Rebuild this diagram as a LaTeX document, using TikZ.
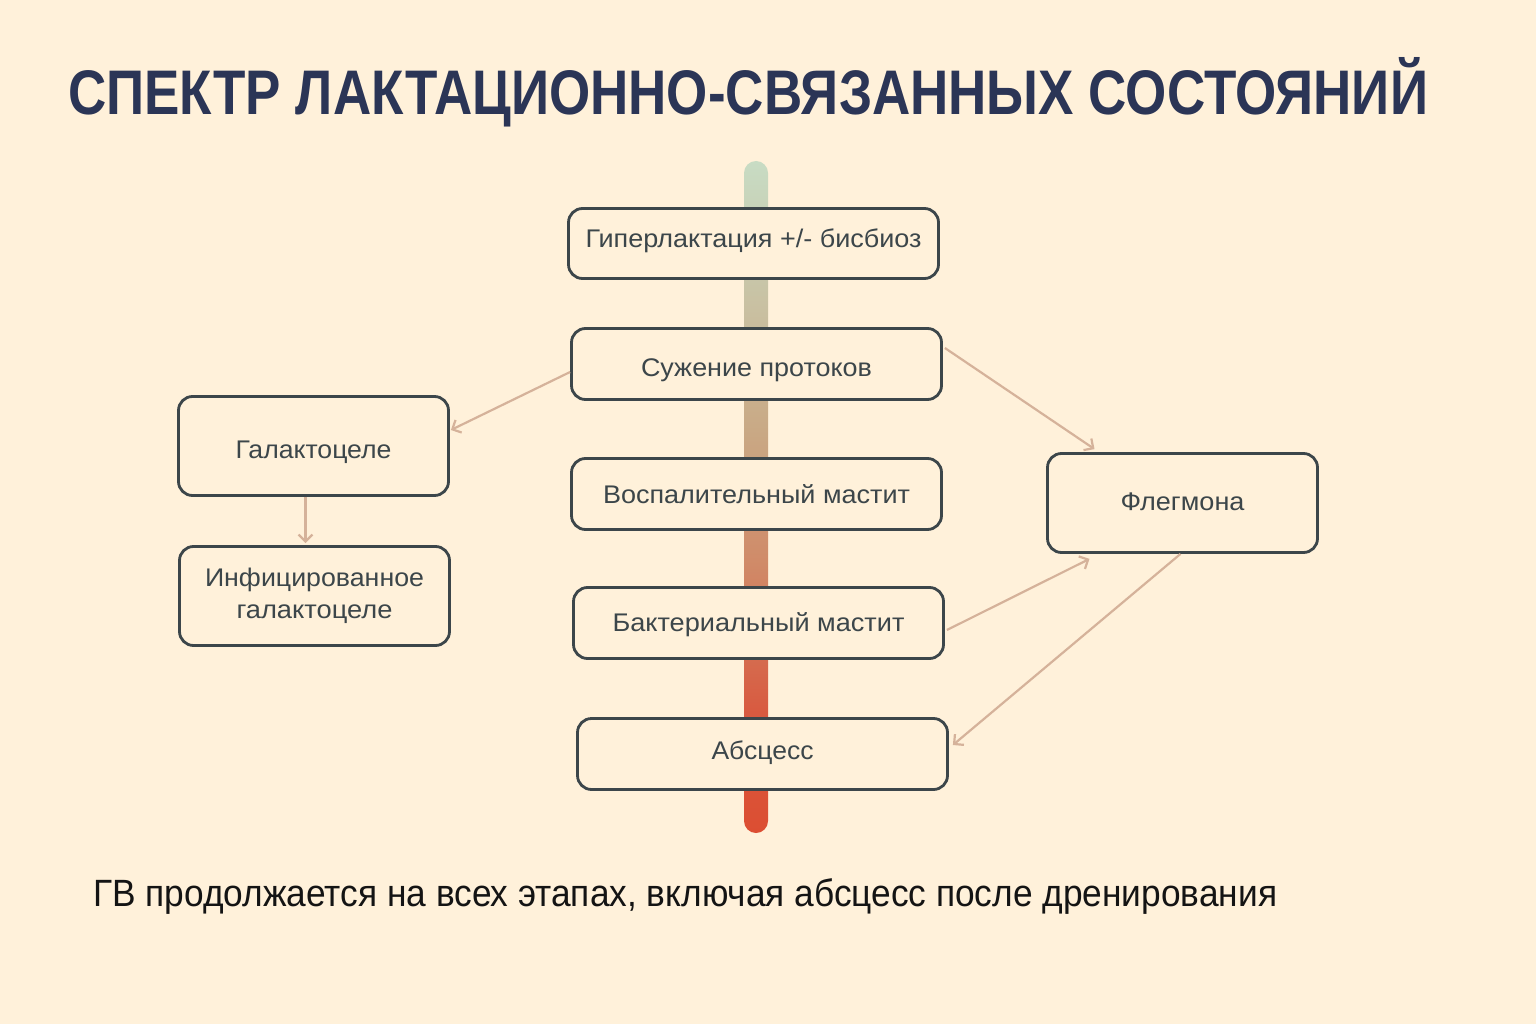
\documentclass[tikz,border=0pt]{standalone}
\usepackage{fontspec}
\setmainfont{Liberation Sans}
\usetikzlibrary{arrows.meta,calc}
\definecolor{bg}{HTML}{FFF1DA}
\definecolor{boxc}{HTML}{3C464A}
\definecolor{titlec}{HTML}{2B3556}
\definecolor{arrc}{HTML}{D5B29A}
\definecolor{footc}{HTML}{141414}
\definecolor{barA}{HTML}{DC4E32}
\definecolor{barB}{HTML}{D85A40}
\definecolor{barC}{HTML}{D08A68}
\definecolor{barD}{HTML}{C9A985}
\definecolor{barE}{HTML}{C8DCC4}
\pgfdeclareverticalshading{barshade}{100bp}{color(0bp)=(barA); color(25bp)=(barA); color(34bp)=(barB); color(45bp)=(barC); color(55bp)=(barD); color(75bp)=(barE); color(100bp)=(barE)}
\newsavebox\fitbox
\newlength\fitlen
\newcommand\fitw[2]{\sbox\fitbox{#2}\setlength\fitlen{\wd\fitbox}\pgfmathsetmacro\fitsc{#1/\fitlen}\scalebox{\fitsc}[1]{\usebox\fitbox}}
\newcommand\bl[2]{\raisebox{-#1pt}[0pt][0pt]{#2}}
\tikzset{
  box/.style={draw=boxc, line width=2.8pt, rounded corners=14pt, fill=bg, text=boxc,
    font=\fontsize{25.5}{32}\selectfont, inner sep=0pt, align=center},
  conn/.style={draw=arrc, line width=2.2pt, -{Straight Barb[length=7pt,width=14pt,line width=2.2pt]}}
}
\begin{document}
\begin{tikzpicture}[x=1pt,y=-1pt]
\fill[bg] (0,0) rectangle (1536,1024);
\useasboundingbox (0,0) rectangle (1536,1024);
% title
\node[anchor=base west, inner sep=0pt, text=titlec, font=\fontsize{63}{70}\selectfont\bfseries] (title) at (68,115) {\fitw{1360}{СПЕКТР ЛАКТАЦИОННО-СВЯЗАННЫХ СОСТОЯНИЙ}};
% gradient bar
\shade[shading=barshade, rounded corners=12pt] (744,161) rectangle (768,833);
% boxes
\node[box, minimum width=370pt, minimum height=70pt] (hyp) at (753.5,243.5) {\bl{4.5}{\fitw{336}{Гиперлактация +/- бисбиоз}}};
\node[box, minimum width=370pt, minimum height=71pt] (suz) at (756.5,364) {\bl{12}{\fitw{231}{Сужение протоков}}};
\node[box, minimum width=270pt, minimum height=99pt] (gal) at (313.5,446) {\bl{12}{\fitw{156}{Галактоцеле}}};
\node[box, minimum width=270pt, minimum height=99pt] (inf) at (314.5,596) {\fitw{219}{Инфицированное}\\\fitw{156}{галактоцеле}};
\node[box, minimum width=370pt, minimum height=71pt] (vos) at (756.5,494) {\bl{9}{\fitw{307}{Воспалительный мастит}}};
\node[box, minimum width=270pt, minimum height=99pt] (fleg) at (1182.5,503) {\bl{7}{\fitw{124}{Флегмона}}};
\node[box, minimum width=370pt, minimum height=71pt] (bak) at (758.5,623) {\bl{8.5}{\fitw{292}{Бактериальный мастит}}};
\node[box, minimum width=370pt, minimum height=71pt] (abs) at (762.5,754) {\bl{5}{\fitw{102}{Абсцесс}}};
% connectors
\draw[conn] ([yshift=-8pt]suz.west) -- ([yshift=16pt,xshift=1pt]gal.east);
\draw[conn] ([yshift=16pt,xshift=2pt]suz.east) -- ([xshift=-88pt,yshift=3pt]fleg.north);
\draw[conn] ([xshift=-8pt]gal.south) -- ([xshift=-9pt,yshift=2pt]inf.north);
\draw[conn] ([yshift=-7pt,xshift=2pt]bak.east) -- ([xshift=-93pt,yshift=-5pt]fleg.south);
\draw[conn] ([xshift=-2pt]fleg.south) -- ([xshift=4pt,yshift=9pt]abs.east);
% footer
\node[anchor=base west, inner sep=0pt, text=footc, font=\fontsize{38}{44}\selectfont] (foot) at (93,906) {\fitw{1184}{ГВ продолжается на всех этапах, включая абсцесс после дренирования}};
\end{tikzpicture}
\end{document}
